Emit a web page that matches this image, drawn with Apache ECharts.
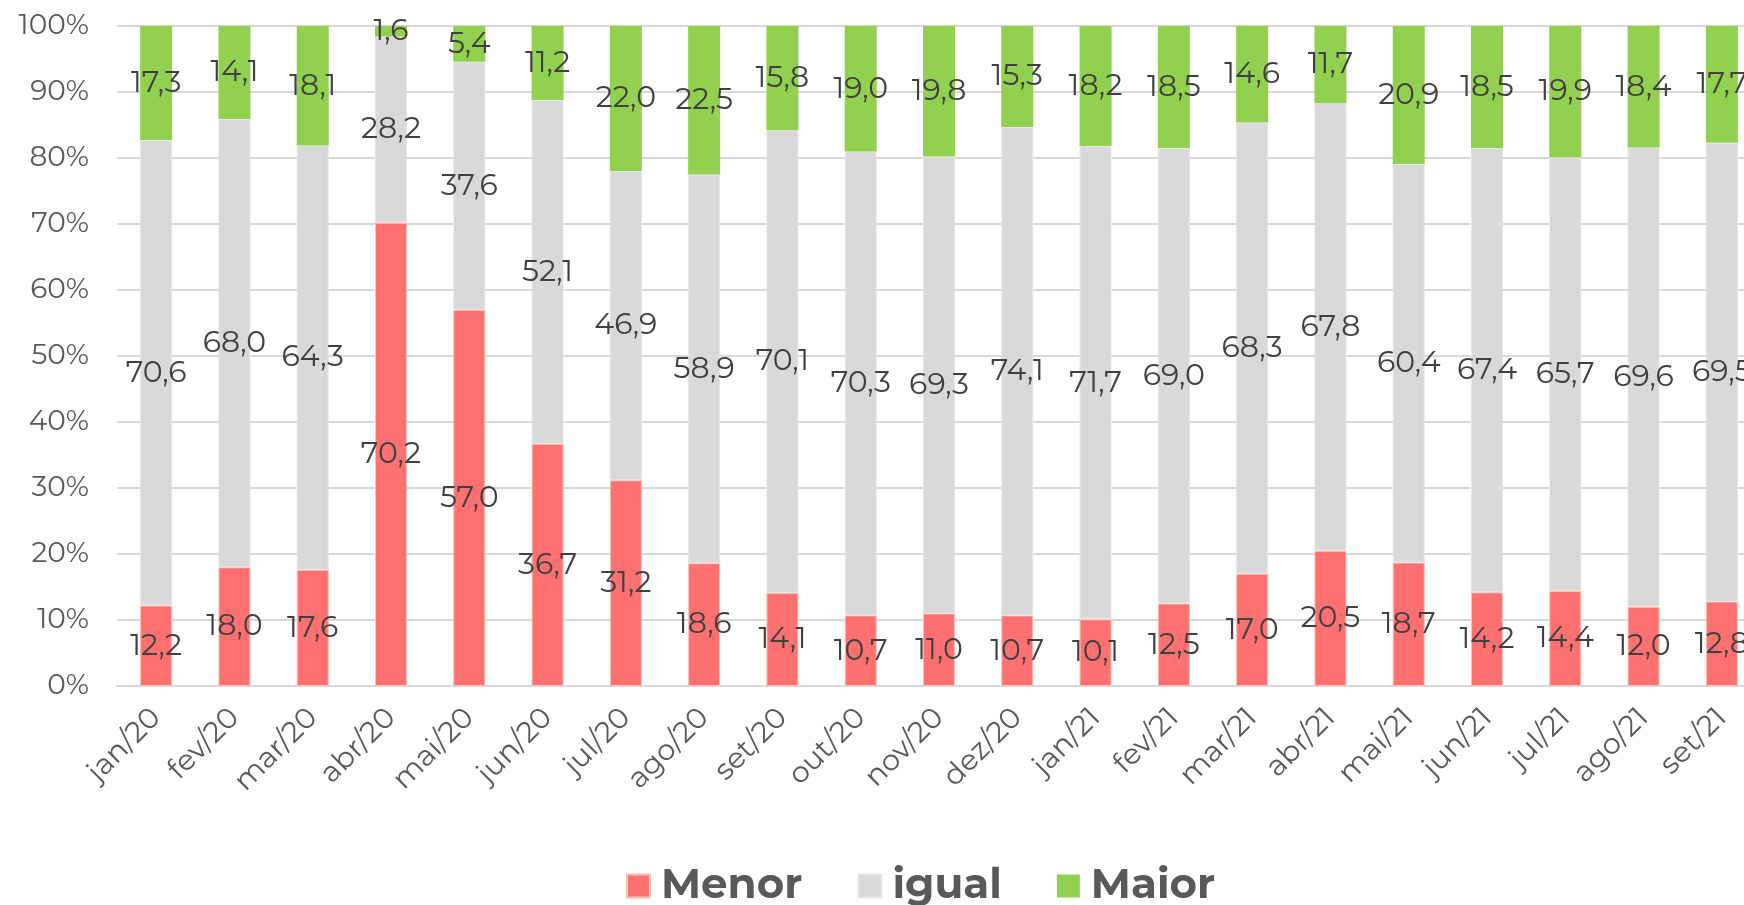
<!DOCTYPE html>
<html>
<head>
<meta charset="utf-8">
<script src="https://cdn.jsdelivr.net/npm/echarts@6/dist/echarts.min.js"></script>
<style>
html,body{margin:0;padding:0;background:#fff;}
#chart{width:1744px;height:905px;}
</style>
</head>
<body>
<div id="chart"></div>
<script>
const categories = ['jan/20','fev/20','mar/20','abr/20','mai/20','jun/20','jul/20','ago/20','set/20','out/20','nov/20','dez/20','jan/21','fev/21','mar/21','abr/21','mai/21','jun/21','jul/21','ago/21','set/21'];
const menor = [12.2,18.0,17.6,70.2,57.0,36.7,31.2,18.6,14.1,10.7,11.0,10.7,10.1,12.5,17.0,20.5,18.7,14.2,14.4,12.0,12.8];
const igual = [70.6,68.0,64.3,28.2,37.6,52.1,46.9,58.9,70.1,70.3,69.3,74.1,71.7,69.0,68.3,67.8,60.4,67.4,65.7,69.6,69.5];
const maior = [17.3,14.1,18.1,1.6,5.4,11.2,22.0,22.5,15.8,19.0,19.8,15.3,18.2,18.5,14.6,11.7,20.9,18.5,19.9,18.4,17.7];
const yTicks = [0,10,20,30,40,50,60,70,80,90,100];

const FONT = "Montserrat, 'Open Sans', sans-serif";
const sums = categories.map((_, i) => menor[i] + igual[i] + maior[i]);
const norm = arr => arr.map((v, i) => v / sums[i] * 100);
const fmt = arr => p => arr[p.dataIndex].toFixed(1).replace('.', ',');

function series(name, raw, color, border) {
  return {
    name: name,
    type: 'bar',
    stack: 'total',
    barWidth: 32,
    data: norm(raw),
    itemStyle: { color: color, borderColor: border, borderWidth: border ? 1 : 0 },
    label: {
      show: true,
      position: 'inside',
      formatter: fmt(raw),
      color: '#404040',
      fontFamily: FONT,
      fontSize: 30
    },
    emphasis: { disabled: true }
  };
}

const chart = echarts.init(document.getElementById('chart'));
chart.setOption({
  animation: false,
  backgroundColor: '#fff',
  grid: { left: 117, top: 26, width: 1644, height: 660, containLabel: false, outerBoundsMode: 'none' },
  legend: {
    left: 621,
    top: 860,
    itemWidth: 23,
    itemHeight: 23,
    itemGap: 55,
    icon: 'rect',
    textStyle: { fontFamily: FONT, fontSize: 42, fontWeight: 'bold', color: '#595959', padding: [0, 0, 0, 6] },
    data: ['Menor', 'igual', 'Maior']
  },
  xAxis: {
    type: 'category',
    data: categories,
    axisTick: { show: false },
    axisLine: { lineStyle: { color: '#D9D9D9', width: 2 } },
    axisLabel: { rotate: 45, margin: 27, fontFamily: FONT, fontSize: 29, color: '#595959', interval: 0 }
  },
  yAxis: {
    type: 'value',
    min: yTicks[0],
    max: yTicks[yTicks.length - 1],
    interval: yTicks[1] - yTicks[0],
    axisLine: { show: false },
    axisTick: { show: false },
    splitLine: { lineStyle: { color: '#D9D9D9', width: 2 } },
    axisLabel: { formatter: '{value}%', margin: 28, fontFamily: FONT, fontSize: 28, color: '#595959' }
  },
  series: [
    series('Menor', menor, '#FF7070', '#F8C0B8'),
    series('igual', igual, '#D9D9D9', '#E6E6E6'),
    series('Maior', maior, '#92D050', null)
  ]
});
</script>
</body>
</html>
